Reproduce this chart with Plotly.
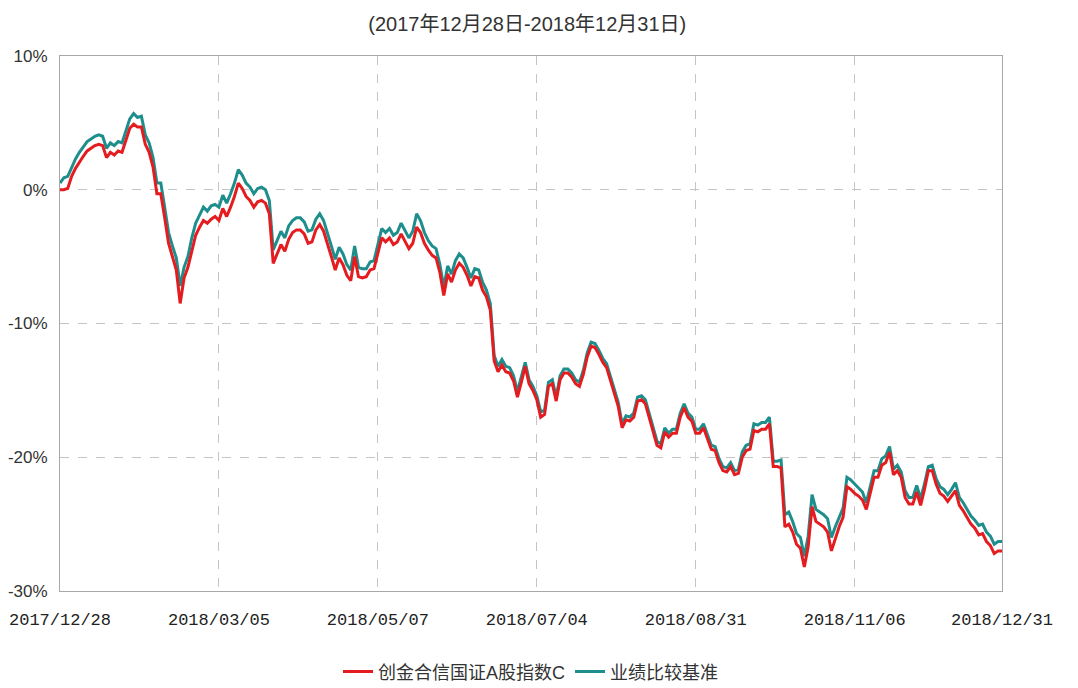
import plotly.graph_objects as go

# trading-day index (0 = 2017/12/28)
tick_idx = [0, 41, 82, 123, 164, 205, 243]
tick_labels = ["2017/12/28", "2018/03/05", "2018/05/07", "2018/07/04",
               "2018/08/31", "2018/11/06", "2018/12/31"]
y_ticks = [10, 0, -10, -20, -30]
y_labels = ["10%", "0%", "-10%", "-20%", "-30%"]

fund_c = [
    0.0, 0.0, 0.1, 1.0, 1.6, 2.1, 2.5, 2.9, 3.1, 3.3,
    3.4, 3.3, 2.4, 2.8, 2.6, 2.9, 2.8, 3.8, 4.6, 4.9,
    4.7, 4.7, 3.4, 2.8, 1.7, -0.3, -0.3, -2.1, -4.0, -5.0,
    -6.0, -8.5, -6.6, -5.8, -4.5, -3.4, -2.8, -2.3, -2.5, -2.2,
    -2.0, -2.3, -1.4, -2.0, -1.3, -0.5, 0.5, 0.1, -0.5, -0.8,
    -1.3, -0.9, -0.8, -1.0, -1.8, -5.5, -4.8, -4.1, -4.6, -3.7,
    -3.2, -3.0, -3.0, -3.3, -4.0, -3.9, -3.0, -2.6, -3.1, -4.0,
    -5.0, -6.0, -5.1, -5.6, -6.4, -6.8, -5.0, -6.5, -6.6, -6.5,
    -6.0, -5.9, -4.8, -3.6, -3.9, -3.6, -4.1, -3.9, -3.3, -3.8,
    -4.4, -4.0, -2.8, -3.2, -4.0, -4.5, -4.9, -5.1, -6.2, -7.9,
    -6.3, -6.9, -6.0, -5.5, -5.8, -6.4, -7.2, -6.5, -6.6, -7.5,
    -8.0, -9.0, -12.8, -13.6, -13.1, -13.6, -13.7, -14.3, -15.5, -14.4,
    -13.2, -14.5, -15.0, -15.7, -17.0, -16.8, -14.7, -14.5, -15.8, -14.2,
    -13.7, -13.7, -14.0, -14.5, -14.7, -13.8, -12.5, -11.7, -11.8, -12.3,
    -12.9, -13.3, -14.3, -15.2, -16.2, -17.8, -17.2, -17.3, -17.0, -15.8,
    -15.7, -16.0, -17.0, -18.2, -19.1, -19.3, -18.1, -18.5, -18.2, -18.2,
    -17.0, -16.3, -17.0, -17.3, -18.2, -18.2, -17.8, -18.6, -19.4, -19.5,
    -20.4, -21.0, -21.1, -20.7, -21.3, -21.2, -20.0, -19.5, -19.4, -18.0,
    -18.1, -17.9, -17.9, -17.5, -20.7, -20.7, -20.8, -25.2, -25.0, -25.6,
    -26.5, -26.8, -28.2, -26.7, -23.7, -24.8, -25.0, -25.2, -25.6, -27.0,
    -26.1, -25.2, -24.5, -22.2, -22.4, -22.7, -22.9, -23.2, -23.9, -22.8,
    -21.5, -21.5, -20.6, -20.4, -19.6, -21.3, -21.0, -21.5, -23.0, -23.5,
    -23.5, -22.6, -23.6, -22.4, -21.0, -21.0, -22.0, -22.7, -22.9, -23.3,
    -22.9, -22.5, -23.6, -24.0, -24.5, -25.0, -25.3, -25.8, -25.7, -26.3,
    -26.6, -27.2, -27.0, -27.0,
]

benchmark = [
    0.5, 0.9, 1.0, 1.7, 2.3, 2.8, 3.2, 3.6, 3.8, 4.0,
    4.1, 4.0, 3.1, 3.5, 3.3, 3.6, 3.5, 4.5, 5.3, 5.7,
    5.4, 5.5, 4.1, 3.5, 2.4, 0.5, 0.5, -1.3, -3.2, -4.2,
    -5.1, -7.2, -5.8, -5.0, -3.6, -2.5, -1.9, -1.3, -1.6, -1.2,
    -1.1, -1.3, -0.4, -1.0, -0.3, 0.5, 1.5, 1.1, 0.5, 0.2,
    -0.3, 0.1, 0.2, 0.0, -0.8, -4.5, -3.8, -3.1, -3.6, -2.7,
    -2.3, -2.1, -2.1, -2.4, -3.1, -3.0, -2.2, -1.8, -2.3, -3.2,
    -4.2, -5.2, -4.3, -4.8, -5.6, -6.0, -4.2, -5.8, -5.9, -5.9,
    -5.4, -5.3, -4.1, -2.9, -3.2, -2.9, -3.4, -3.2, -2.5, -3.0,
    -3.6, -3.1, -1.8, -2.3, -3.2, -3.8, -4.2, -4.4, -5.6, -7.3,
    -5.7, -6.3, -5.3, -4.8, -5.1, -5.8, -6.6, -5.9, -6.0, -6.9,
    -7.5, -8.5, -12.4, -13.2, -12.7, -13.2, -13.3, -13.9, -15.1, -14.0,
    -12.9, -14.2, -14.7, -15.4, -16.6, -16.5, -14.4, -14.2, -15.5, -13.9,
    -13.4, -13.4, -13.7, -14.2, -14.4, -13.5, -12.2, -11.4, -11.5, -12.0,
    -12.6, -13.0, -14.0, -14.9, -15.9, -17.5, -16.9, -17.0, -16.7, -15.5,
    -15.4, -15.7, -16.7, -17.9, -18.8, -19.0, -17.8, -18.2, -17.9, -17.9,
    -16.7, -16.0, -16.7, -17.0, -17.9, -17.9, -17.5, -18.3, -19.1, -19.2,
    -20.1, -20.7, -20.8, -20.4, -21.0, -20.9, -19.6, -19.1, -19.0, -17.5,
    -17.6, -17.4, -17.4, -17.0, -20.3, -20.3, -20.2, -24.3, -24.1, -24.8,
    -25.7, -26.0, -27.4, -25.9, -22.8, -23.9, -24.1, -24.3, -24.6, -26.0,
    -25.2, -24.5, -23.8, -21.5, -21.7, -22.0, -22.3, -22.6, -23.4, -22.2,
    -21.0, -21.0, -20.1, -19.9, -19.2, -20.9, -20.6, -21.1, -22.5, -23.0,
    -23.0, -22.1, -23.1, -22.0, -20.7, -20.6, -21.6, -22.2, -22.4, -22.8,
    -22.4, -21.9, -23.0, -23.4, -23.9, -24.4, -24.7, -25.1, -25.0, -25.6,
    -25.9, -26.5, -26.3, -26.3,
]

day = list(range(len(fund_c)))

fig = go.Figure()
fig.add_trace(go.Scatter(
    x=day, y=benchmark, mode="lines", name="业绩比较基准",
    line=dict(color="#1d8e8c", width=3), legendrank=2,
))
fig.add_trace(go.Scatter(
    x=day, y=fund_c, mode="lines", name="创金合信国证A股指数C",
    line=dict(color="#e51c1f", width=3), legendrank=1,
))

fig.update_layout(
    width=1078, height=688,
    margin=dict(l=52, r=84, t=48, b=105, autoexpand=False),
    paper_bgcolor="white", plot_bgcolor="white",
    title=dict(text="(2017年12月28日-2018年12月31日)",
               x=0.496, xref="paper", xanchor="center",
               y=1 - 16 / 688, yref="container", yanchor="middle",
               font=dict(family="Liberation Sans, Noto Sans CJK SC", size=20, color="#333333")),
    showlegend=True,
    legend=dict(orientation="h", x=0.5, xanchor="center", y=-0.151, yanchor="middle",
                font=dict(family="Liberation Sans, Noto Sans CJK SC", size=18, color="#333333"),
                itemwidth=30, bgcolor="rgba(0,0,0,0)"),
    hovermode=False,
)

fig.update_xaxes(
    range=[0, 243], tickmode="array", tickvals=tick_idx, ticktext=tick_labels,
    showgrid=True, gridcolor="#c4c4c4", griddash="dash", gridwidth=1,
    showline=True, linecolor="#a8a8a8", linewidth=1, mirror=True,
    ticks="", zeroline=False, ticklabelstandoff=13, automargin=False,
    tickfont=dict(family="Liberation Mono", size=17, color="#222222"),
)
fig.update_yaxes(
    range=[-30, 10], tickmode="array", tickvals=y_ticks, ticktext=y_labels,
    showgrid=True, gridcolor="#c4c4c4", griddash="dash", gridwidth=1,
    showline=True, linecolor="#a8a8a8", linewidth=1, mirror=True,
    ticks="", zeroline=False, ticklabelstandoff=8, automargin=False,
    tickfont=dict(family="Liberation Sans", size=17, color="#333333"),
)

fig.write_html("out.html")
